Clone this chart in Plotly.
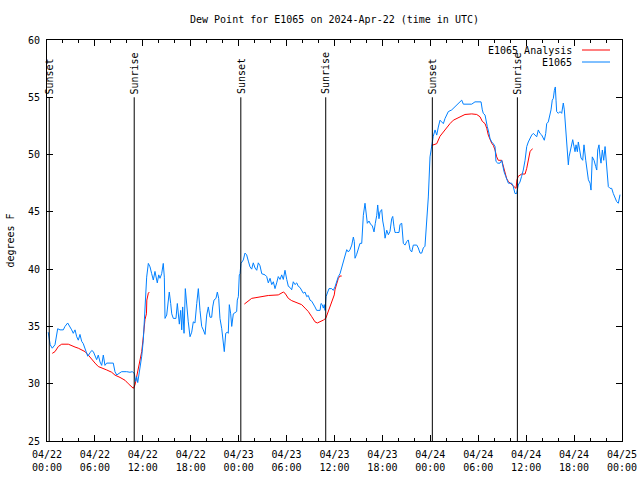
import plotly.graph_objects as go
from datetime import datetime, timedelta

BASE = datetime(2024, 4, 22, 0, 0)

# ---- data (hours since 2024-04-22 00:00 UTC, dew point in deg F) ----
blue_hours = [0.15, 0.4, 0.66, 1.0, 1.34, 1.63, 2.04, 2.25, 2.59, 2.88, 3.09, 3.29, 3.51, 3.72, 3.92,
              4.13, 4.34, 4.54, 4.76, 5.1, 5.39, 5.6, 5.8, 6.01, 6.22, 6.42, 6.64, 6.85, 7.05, 7.26,
              7.47, 7.89, 8.3, 8.51, 8.73, 9.02, 9.35, 9.98, 10.39, 10.68, 10.93, 11.1, 11.23, 11.36,
              11.52, 11.64, 11.86, 12.06, 12.19, 12.4, 12.48, 12.69, 12.9, 13.11, 13.31, 13.52, 13.65,
              13.81, 13.99, 14.15, 14.36, 14.56, 14.69, 14.78, 14.99, 15.19, 15.31, 15.49, 15.62, 15.82,
              16.15, 16.32, 16.44, 16.57, 16.74, 16.87, 16.99, 17.16, 17.32, 17.49, 17.69, 17.91, 18.12,
              18.32, 18.53, 18.75, 18.95, 19.16, 19.37, 19.57, 19.79, 20.0, 20.2, 20.41, 20.62, 20.75,
              20.91, 21.16, 21.33, 21.5, 21.66, 21.88, 22.08, 22.2, 22.38, 22.58, 22.7, 22.83, 23.0,
              23.13, 23.33, 23.54, 23.75, 23.83, 23.96, 24.08, 24.17, 24.29, 24.58, 24.79, 25.0, 25.21,
              25.42, 25.63, 25.83, 26.05, 26.26, 26.46, 26.67, 26.89, 27.3, 27.51, 27.71, 27.93, 28.14,
              28.34, 28.55, 28.76, 28.96, 29.18, 29.39, 29.59, 29.8, 30.02, 30.22, 30.43, 30.64, 30.84,
              31.05, 31.27, 31.47, 31.68, 31.89, 32.09, 32.31, 32.52, 32.72, 32.93, 33.15, 33.35, 33.56,
              33.77, 33.97, 34.19, 34.31, 34.47, 34.6, 34.72, 34.81, 34.94, 35.15, 35.31, 35.65, 35.85,
              36.06, 36.28, 36.48, 36.69, 36.9, 37.1, 37.32, 37.53, 37.73, 37.94, 38.16, 38.36, 38.48,
              38.57, 38.78, 38.98, 39.19, 39.41, 39.61, 39.82, 39.95, 40.11, 40.32, 40.53, 40.73, 40.95,
              41.11, 41.29, 41.41, 41.57, 41.7, 41.91, 42.04, 42.2, 42.33, 42.54, 42.74, 42.95, 43.16,
              43.29, 43.45, 43.58, 43.79, 44.08, 44.2, 44.42, 44.62, 44.83, 45.04, 45.24, 45.46, 45.67,
              45.87, 46.3, 46.49, 46.71, 46.92, 47.12, 47.33, 47.55, 47.75, 47.96, 48.17, 48.37, 48.59,
              48.8, 49.0, 49.21, 49.42, 49.63, 49.84, 50.05, 50.25, 50.68, 50.88, 51.09, 51.3, 51.5,
              51.72, 51.93, 52.13, 52.76, 53.18, 53.59, 54.35, 54.51, 54.63, 54.85, 54.97, 55.13, 55.35,
              55.47, 55.68, 55.89, 56.1, 56.22, 56.44, 56.72, 56.94, 57.06, 57.23, 57.44, 57.64, 57.77,
              58.19, 58.39, 58.6, 58.81, 59.01, 59.22, 59.43, 59.64, 59.86, 60.07, 60.27, 60.48, 60.69,
              60.9, 61.11, 61.32, 61.52, 61.73, 61.95, 62.15, 62.27, 62.45, 62.57, 62.77, 62.99, 63.11,
              63.27, 63.4, 63.53, 63.65, 63.74, 63.82, 64.03, 64.24, 64.45, 64.65, 64.78, 64.87, 64.99,
              65.12, 65.28, 65.37, 65.49, 65.7, 65.83, 65.99, 66.12, 66.24, 66.41, 66.53, 66.74, 66.87,
              67.08, 67.24, 67.46, 67.66, 67.79, 68.0, 68.12, 68.28, 68.5, 68.71, 68.84, 68.96, 69.12,
              69.25, 69.37, 69.54, 69.71, 69.88, 70.09, 70.29, 70.5, 70.71, 70.91, 71.12, 71.33, 71.54,
              71.75]
blue_dewpt = [34.5, 33.4, 33.1, 33.4, 34.8, 34.7, 34.7, 35.0, 35.3, 35.0, 34.7, 34.4, 34.7, 34.1, 33.8,
              34.3, 33.7, 33.5, 33.1, 32.4, 32.7, 32.9, 32.8, 32.4, 32.1, 32.5, 31.9, 31.6, 32.5, 31.6,
              31.8, 31.8, 31.8, 31.05, 30.76, 30.9, 31.05, 31.05, 31.0, 31.05, 30.9, 30.2, 30.6, 30.1,
              30.8, 31.4, 32.4, 33.8, 35.6, 37.3, 39.3, 40.5, 40.2, 39.6, 39.05, 39.8, 39.3,
              38.8, 39.5, 39.2, 39.6, 40.5, 39.3, 35.7, 36.0, 37.0, 38.0, 37.0, 36.1, 35.7,
              35.7, 37.0, 35.8, 35.2, 36.4, 34.7, 36.7, 34.4, 38.3, 36.7, 35.4, 34.1, 34.5,
              35.4, 35.3, 37.0, 38.3, 36.4, 35.0, 34.7, 34.3, 36.0, 36.7, 35.8, 35.8, 36.7,
              37.3, 37.45, 38.0, 37.45, 35.7, 34.8, 33.8, 32.8, 34.4, 34.5, 34.4, 36.9, 36.1,
              35.0, 36.1, 36.2, 36.3, 37.3, 37.6, 39.5, 39.6, 40.5, 40.8, 41.4, 41.25, 40.7,
              40.2, 40.0, 40.55, 40.1, 39.9, 40.55, 40.3, 39.6, 39.5, 39.35, 38.8, 39.2, 38.65,
              38.9, 38.3, 38.8, 39.35, 39.1, 39.5, 39.1, 39.9, 39.1, 38.5, 38.4, 38.2, 38.9,
              38.65, 38.8, 38.5, 38.4, 38.2, 37.9, 38.0, 37.6, 37.7, 37.3, 37.2, 37.0, 36.7,
              36.4, 36.4, 36.4, 37.0, 36.9, 36.6, 36.9, 36.4, 37.6, 38.0, 38.3, 38.3, 38.15,
              38.45, 39.05, 39.35, 39.6, 40.1, 40.65, 41.1, 41.7, 41.5, 41.7, 42.1, 42.8, 42.4,
              40.95, 41.3, 41.85, 42.25, 42.25, 44.7, 45.75, 44.9, 44.0, 44.2, 43.9, 43.8, 43.25,
              44.0, 44.7, 45.6, 44.4, 45.0, 45.2, 44.2, 43.6, 42.7, 43.4, 43.0, 43.3, 44.4,
              44.6, 43.7, 43.2, 43.2, 43.2, 43.9, 44.0, 42.25, 42.1, 42.4, 42.55, 41.7, 41.5,
              42.1, 42.1, 41.85, 41.4, 41.4, 41.85, 42.0, 44.0, 46.3, 49.8, 50.8, 51.6, 52.15,
              51.7, 52.4, 53.0, 52.85, 52.7, 53.15, 53.45, 53.75, 53.9, 54.05, 54.2, 54.35, 54.5,
              54.6, 54.75, 54.4, 54.4, 54.4, 54.6, 54.6, 53.9, 53.6, 53.45, 52.9, 52.45, 51.85,
              51.4, 51.1, 50.95, 50.7, 49.4, 49.25, 49.25, 49.5, 48.95, 48.5, 48.1, 47.8, 47.5,
              47.5, 47.2, 46.6, 46.6, 47.35, 47.6, 48.1, 48.65, 49.5, 50.7, 51.1, 51.4, 51.7,
              51.85, 51.7, 51.55, 52.15, 51.85, 51.7, 51.4, 51.25, 51.85, 52.7, 52.85, 53.45, 53.9,
              54.75, 54.9, 55.6, 55.9, 54.75, 53.75, 53.6, 53.75, 53.6, 54.5, 53.9, 53.0, 51.85,
              51.1, 49.1, 49.8, 50.25, 50.7, 51.3, 50.7, 50.25, 50.85, 50.25, 51.1, 50.4, 49.7,
              49.5, 50.85, 49.5, 48.65, 47.8, 47.5, 46.9, 49.8, 49.5, 48.95, 48.65, 50.4, 50.85,
              49.8, 49.25, 50.4, 49.5, 50.7, 48.95, 47.2, 47.05, 47.05, 46.6, 46.2, 45.9, 45.75,
              46.5]

# analysis series: None breaks the line between the three analysed periods
red_hours = [0.66, 1.0, 1.42, 1.84, 2.67, 3.09, 3.51, 3.92, 4.34, 4.76, 5.17, 5.6, 6.01, 6.42, 6.85,
             7.48, 8.1, 8.51, 9.14, 9.77, 10.18, 10.61, 10.81, 11.02, 11.23, 11.52, 11.86, 12.06,
             12.15, 12.27, 12.45, 12.5, 12.69, 12.81,
             None,
             24.71, 25.21, 25.63, 26.05, 26.89, 27.71, 28.96, 29.59, 29.8, 30.22, 30.64, 31.27,
             31.89, 32.31, 32.72, 33.15, 33.56, 33.85, 34.19, 34.6, 34.9, 35.23, 35.65, 35.97,
             36.06, 36.28, 36.48, 36.69, 36.9,
             None,
             48.17, 48.8, 49.21, 49.63, 50.05, 50.46, 50.88, 51.3, 51.72, 52.34, 53.18, 53.81,
             54.22, 54.51, 54.85, 55.06, 55.26, 55.47, 55.68, 55.89, 56.1, 56.31, 56.51, 56.94,
             57.14, 57.35, 57.56, 57.77, 58.19, 58.52, 58.73, 58.85, 59.01, 59.43, 59.86, 60.07,
             60.27, 60.48, 60.69, 60.81]
red_dewpt = [32.65, 32.8, 33.25, 33.45, 33.45, 33.3, 33.2, 33.1, 32.95, 32.8, 32.5, 32.1, 31.8, 31.5,
             31.35, 31.2, 31.0, 30.75, 30.55, 30.3, 30.0, 29.7, 29.6, 29.9, 30.6, 31.8, 32.8, 34.1,
             34.7, 35.6, 36.1, 37.3, 37.9, 38.0,
             None,
             36.95, 37.25, 37.45, 37.5, 37.6, 37.7, 37.75, 38.0, 37.9, 37.45, 37.25, 37.1,
             36.9, 36.6, 36.3, 35.85, 35.4, 35.3, 35.4, 35.55, 35.7, 36.3, 37.2, 37.75,
             38.2, 38.8, 39.2, 39.4, 39.4,
             None,
             50.8, 50.95, 51.6, 52.0, 52.3, 52.7, 53.0, 53.15, 53.35, 53.5, 53.55, 53.5,
             53.3, 52.9, 52.7, 52.3, 51.7, 51.3, 51.0, 50.8, 50.4, 49.8, 49.5, 49.5,
             48.95, 48.5, 47.9, 47.65, 47.35, 47.2, 47.05, 47.8, 48.1, 48.3, 48.3, 48.8,
             49.5, 50.25, 50.45, 50.5]

event_hours = [0.28, 10.92, 24.27, 34.9, 48.25, 58.9]
event_labels = ["Sunset", "Sunrise", "Sunset", "Sunrise", "Sunset", "Sunrise"]
event_top = 55
series_names = ["E1065 Analysis", "E1065"]
series_colors = ["#ff0000", "#0080ff"]
y_ticks = [25, 30, 35, 40, 45, 50, 55, 60]
title_text = "Dew Point for E1065 on 2024-Apr-22 (time in UTC)"
y_title = "degrees F"


def to_time(h):
    return None if h is None else BASE + timedelta(hours=h)


FONT = "DejaVu Sans Mono"
fig = go.Figure()
fig.add_trace(go.Scatter(x=[to_time(h) for h in red_hours], y=red_dewpt, mode="lines",
                         name=series_names[0], line=dict(color=series_colors[0], width=1),
                         connectgaps=False))
fig.add_trace(go.Scatter(x=[to_time(h) for h in blue_hours], y=blue_dewpt, mode="lines",
                         name=series_names[1], line=dict(color=series_colors[1], width=1)))

# sunrise / sunset markers
for h, lab in zip(event_hours, event_labels):
    t = to_time(h)
    fig.add_shape(type="line", xref="x", yref="y", x0=t, x1=t, y0=event_top, y1=y_ticks[0],
                  line=dict(color="black", width=1))
    fig.add_annotation(x=t, y=event_top, xref="x", yref="y", text=lab, textangle=-90,
                       showarrow=False, xanchor="center", yanchor="bottom", yshift=1,
                       font=dict(family=FONT, size=10, color="black"))

# manual gnuplot-style legend (text right-aligned, sample line to the right)
W, H = 575.0, 401.0
for i, (nm, col) in enumerate(zip(series_names, series_colors)):
    ypx = 50 + 12 * i
    yp = (441 - ypx) / H
    fig.add_annotation(x=(574 - 47) / W, y=yp, xref="paper", yref="paper", text=nm,
                       showarrow=False, xanchor="right", yanchor="middle",
                       font=dict(family=FONT, size=10, color="black"))
    fig.add_shape(type="line", xref="paper", yref="paper", x0=(582 - 47) / W, x1=(610 - 47) / W,
                  y0=yp, y1=yp, line=dict(color=col, width=1))

fig.update_layout(
    width=640, height=480,
    margin=dict(l=47, r=18, t=40, b=39, pad=0, autoexpand=False),
    paper_bgcolor="white", plot_bgcolor="white",
    showlegend=False,
    font=dict(family=FONT, size=10, color="black"),
    title=dict(text=title_text, x=(47 + 575 / 2) / 640, xanchor="center", xref="container",
               y=1 - 19 / 480, yanchor="middle", yref="container",
               font=dict(family=FONT, size=10, color="black")),
    xaxis=dict(type="date", range=[BASE, BASE + timedelta(hours=72)],
               tick0=BASE, dtick=6 * 3600 * 1000, tickformat="%m/%d<br>%H:%M",
               showgrid=False, zeroline=False, showline=True, linecolor="black", linewidth=1,
               mirror="allticks", ticks="inside", ticklen=6, tickcolor="black",
               ticklabelstandoff=4, automargin=False,
               minor=dict(dtick=2 * 3600 * 1000, ticks="inside", ticklen=3, tickcolor="black",
                          showgrid=False),
               tickfont=dict(family=FONT, size=10, color="black")),
    yaxis=dict(range=[25, 60], tickvals=y_ticks, showgrid=False, zeroline=False,
               showline=True, linecolor="black", linewidth=1, mirror="allticks",
               ticks="inside", ticklen=6, tickcolor="black", ticklabelstandoff=4,
               automargin=False,
               tickfont=dict(family=FONT, size=10, color="black"),
               title=dict(text=y_title, standoff=11, font=dict(family=FONT, size=10, color="black"))),
)

fig.write_html("out.html", config={"displayModeBar": False},
               post_script="document.body.style.margin='0px';")
